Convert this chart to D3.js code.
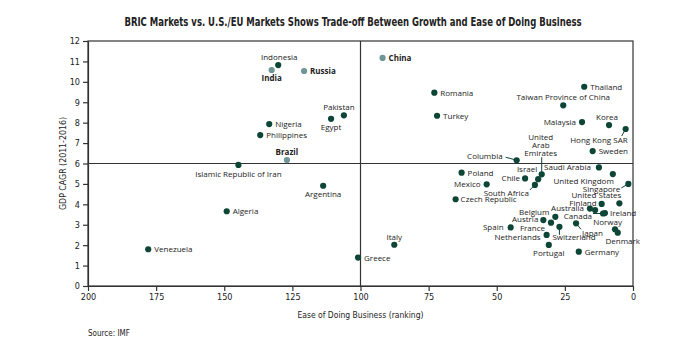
<!DOCTYPE html>
<html lang="en">
<head>
    <meta charset="UTF-8">
    <title>BRIC vs US/EU</title>
    <script src="https://cdn.jsdelivr.net/npm/d3@7/dist/d3.min.js"></script>
    <style>
        body { margin: 0; background: #fff; }
        text.narrow { font-family: 'Liberation Sans Narrow', 'DejaVu Sans Condensed', sans-serif; fill: #222; }
        text.lbl { font-family: 'Open Sans', 'DejaVu Sans', sans-serif; font-size: 8px; fill: #222; }
        .axis path, .axis line { stroke: #333; stroke-width: 1.2px; }
        .axis text { font-family: 'Liberation Sans Narrow', 'DejaVu Sans Condensed', sans-serif; font-size: 9px; fill: #222; }
    </style>
</head>
<body>
<div id="chart"></div>
<script>
    // data: ranking (x) and GDP CAGR (y)
    var countries = ["Indonesia", "India", "Russia", "China", "Pakistan", "Egypt", "Romania", "Turkey",
        "Nigeria", "Philippines", "Brazil", "Islamic Republic of Iran", "Algeria", "Venezuela", "Argentina",
        "Italy", "Greece", "Thailand", "Taiwan Province of China", "Malaysia", "Korea", "Hong Kong SAR",
        "Sweden", "Columbia", "United Arab Emirates", "Israel", "Chile", "South Africa", "Mexico", "Poland",
        "Czech Republic", "Saudi Arabia", "United Kingdom", "Singapore", "United States", "Finland",
        "Australia", "", "Canada", "Ireland", "Japan", "Norway", "Denmark", "Austria", "Belgium", "France",
        "Switzerland", "Spain", "Netherlands", "Portugal", "Germany"];
    var ranking = [130.2, 132.6, 120.7, 91.9, 106.1, 110.8, 72.9, 71.9,
        133.5, 136.8, 127.0, 144.8, 149.1, 177.9, 113.7,
        87.6, 100.9, 17.9, 25.6, 18.7, 8.8, 2.7,
        14.8, 42.7, 33.5, 34.8, 39.6, 36.0, 53.7, 62.9,
        65.1, 12.5, 7.4, 1.7, 5.0, 11.5,
        15.8, 13.9, 11.0, 10.3, 20.9, 6.6, 5.6, 32.9, 28.5, 30.1,
        27.0, 44.9, 31.7, 30.9, 19.9];
    var gdpCagr = [10.82, 10.58, 10.53, 11.17, 8.36, 8.19, 9.47, 8.34,
        7.93, 7.39, 6.17, 5.93, 3.66, 1.80, 4.91,
        2.02, 1.39, 9.76, 8.85, 8.03, 7.88, 7.69,
        6.61, 6.16, 5.47, 5.23, 5.27, 4.95, 4.98, 5.55,
        4.25, 5.81, 5.48, 5.00, 4.05, 4.02,
        3.79, 3.72, 3.55, 3.57, 3.07, 2.78, 2.61, 3.23, 3.39, 3.10,
        2.90, 2.87, 2.50, 2.01, 1.68];
    var bric = ["India", "Russia", "China", "Brazil"];
    var xTicks = [200, 175, 150, 125, 100, 75, 50, 25, 0];
    var yTicks = [0, 1, 2, 3, 4, 5, 6, 7, 8, 9, 10, 11, 12];

    // label placement: anchor, dx, dy, optional leader start (relative to dot)
    var labelPos = {
        "Indonesia": ["middle", 1, -5], "India": ["middle", 0, 11], "Russia": ["start", 6, 3],
        "China": ["start", 6, 3], "Pakistan": ["middle", -5, -5], "Egypt": ["middle", 0, 11],
        "Romania": ["start", 6, 3], "Turkey": ["start", 6, 3], "Nigeria": ["start", 6, 3],
        "Philippines": ["start", 6, 3], "Brazil": ["middle", 0, -5], "Islamic Republic of Iran": ["middle", 0, 12],
        "Algeria": ["start", 6, 3], "Venezuela": ["start", 6, 3], "Argentina": ["middle", 0, 11],
        "Italy": ["middle", 0, -5], "Greece": ["start", 6, 3], "Thailand": ["start", 6, 3],
        "Taiwan Province of China": ["middle", 0, -5], "Malaysia": ["end", -6, 3], "Korea": ["middle", -2, -5],
        "Hong Kong SAR": ["end", 2, 14, [-4, 7]], "Sweden": ["start", 6, 3], "Columbia": ["end", -14, -1, [-11, -3]],
        "United Arab Emirates": ["middle", -1, -34, [0, -17]], "Israel": ["end", -1, -7], "Chile": ["end", -5, 3],
        "South Africa": ["end", -6, 11, [-5, 5]], "Mexico": ["end", -6, 3], "Poland": ["start", 6, 3],
        "Czech Republic": ["start", 5, 3], "Saudi Arabia": ["end", -8, 3], "United Kingdom": ["end", 1, 10],
        "Singapore": ["end", -8, 8, [-7, 4]], "United States": ["end", 2, -5], "Finland": ["end", -5, 2],
        "Australia": ["end", -6, 2], "Canada": ["end", -11, 5, [-10, 0]], "Ireland": ["start", 5, 3],
        "Japan": ["start", 6, 13, [5, 6]], "Norway": ["end", 7, -4], "Denmark": ["middle", 5, 11],
        "Austria": ["end", -5, 2], "Belgium": ["end", -6, -2], "France": ["end", -6, 8],
        "Switzerland": ["start", -7, 13, [0, 8]], "Spain": ["end", -7, 3], "Netherlands": ["end", -6, 5],
        "Portugal": ["middle", 0, 11], "Germany": ["start", 6, 3]
    };

    const W = 700, H = 347;
    const margin = {top: 41, right: 67, bottom: 61, left: 88};
    const width = W - margin.left - margin.right,
        height = H - margin.top - margin.bottom;

    const svg = d3.select("#chart").append("svg")
        .attr("width", W)
        .attr("height", H);

    // title squeezed horizontally to mimic the condensed face of the original
    svg.append("text")
        .attr("class", "narrow")
        .attr("transform", "translate(353,26) scale(0.787,1)")
        .style("font-size", "12px")
        .style("font-weight", "bold")
        .style("text-anchor", "middle")
        .text("BRIC Markets vs. U.S./EU Markets Shows Trade-off Between Growth and Ease of Doing Business");

    const g = svg.append("g")
        .attr("transform", "translate(" + margin.left + "," + margin.top + ")");

    var x = d3.scaleLinear().domain([200, 0]).range([0, width]);
    var y = d3.scaleLinear().domain([0, 12]).range([height, 0]);

    g.append("g")
        .attr("class", "axis")
        .attr("transform", "translate(0," + height + ")")
        .call(d3.axisBottom(x).tickValues(xTicks).tickSize(5).tickPadding(3).tickSizeOuter(0));

    g.append("g")
        .attr("class", "axis")
        .call(d3.axisLeft(y).tickValues(yTicks).tickSize(5).tickPadding(3).tickSizeOuter(0));

    // frame and quadrant lines
    g.append("rect")
        .attr("x", 0).attr("y", 0)
        .attr("width", width).attr("height", height)
        .attr("fill", "none").attr("stroke", "#333").attr("stroke-width", 1.2);
    g.append("line")
        .attr("x1", x(100)).attr("x2", x(100))
        .attr("y1", 0).attr("y2", height)
        .attr("stroke", "#333").attr("stroke-width", 1.2);
    g.append("line")
        .attr("x1", 0).attr("x2", width)
        .attr("y1", y(6)).attr("y2", y(6))
        .attr("stroke", "#333").attr("stroke-width", 1.2);

    var pts = countries.map(function (c, i) {
        return {name: c, rank: ranking[i], gdp: gdpCagr[i], bric: bric.indexOf(c) >= 0};
    });

    // leader lines
    pts.forEach(function (d) {
        var p = labelPos[d.name];
        if (!p || !p[3]) return;
        g.append("line")
            .attr("x1", x(d.rank) + p[3][0]).attr("y1", y(d.gdp) + p[3][1])
            .attr("x2", x(d.rank)).attr("y2", y(d.gdp))
            .attr("stroke", "#0d4536").attr("stroke-width", 1);
    });

    g.selectAll("circle.dot")
        .data(pts)
        .enter().append("circle")
        .attr("class", "dot")
        .attr("cx", function (d) { return x(d.rank); })
        .attr("cy", function (d) { return y(d.gdp); })
        .attr("r", 3.1)
        .attr("fill", function (d) { return d.bric ? "#6f9696" : "#0d4536"; });

    pts.forEach(function (d) {
        var p = labelPos[d.name];
        if (!p) return;
        var t = g.append("text")
            .attr("class", "lbl")
            .attr("x", x(d.rank) + p[1])
            .attr("y", y(d.gdp) + p[2])
            .style("text-anchor", p[0])
            .style("font-weight", d.bric ? "bold" : "normal");
        if (d.name === "United Arab Emirates") {
            ["United", "Arab", "Emirates"].forEach(function (s, k) {
                t.append("tspan").attr("x", x(d.rank) + p[1]).attr("dy", k === 0 ? 0 : 7.8).text(s);
            });
        } else {
            t.text(d.name);
        }
    });

    // axis titles
    svg.append("text")
        .attr("class", "narrow")
        .attr("transform", "translate(" + (margin.left + width / 2) + ",318) scale(0.894,1)")
        .style("font-size", "9.5px")
        .style("text-anchor", "middle")
        .text("Ease of Doing Business (ranking)");

    svg.append("text")
        .attr("class", "narrow")
        .attr("transform", "translate(66," + (margin.top + y(6)) + ") rotate(-90) scale(0.92,1)")
        .style("font-size", "9.5px")
        .style("text-anchor", "middle")
        .text("GDP CAGR (2011-2016)");

    svg.append("text")
        .attr("class", "narrow")
        .attr("x", 88)
        .attr("y", 336)
        .style("font-size", "8px")
        .text("Source:  IMF");
</script>
</body>
</html>
